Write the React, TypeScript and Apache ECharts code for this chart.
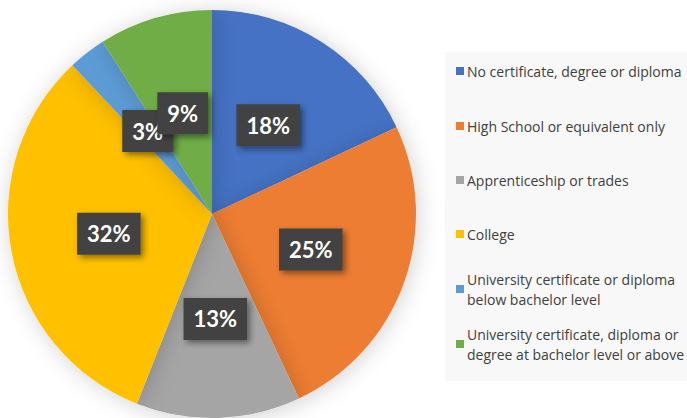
import React, { useEffect, useRef } from "react";
import * as echarts from "echarts";

const categories = [
  "No certificate, degree or diploma",
  "High School or equivalent only",
  "Apprenticeship or trades",
  "College",
  "University certificate or diploma below bachelor level",
  "University certificate, diploma or degree at bachelor level or above",
];
const legendLabels = [
  "No certificate, degree or diploma",
  "High School or equivalent only",
  "Apprenticeship or trades",
  "College",
  "University certificate or diploma\nbelow bachelor level",
  "University certificate, diploma or\ndegree at bachelor level or above",
];
const values = [18, 25, 13, 32, 3, 9];
const colors = ["#4472C4", "#ED7D31", "#A5A5A5", "#FFC000", "#5B9BD5", "#70AD47"];
const legendIconCenters = [71, 126, 180, 234, 289, 344];

export default function App() {
  const ref = useRef<HTMLDivElement>(null);
  useEffect(() => {
    document.body.style.margin = "0";
    const chart = echarts.init(ref.current!, null, { renderer: "svg" });
    const legends = categories.map((name, i) => {
      const multi = legendLabels[i].includes("\n");
      return {
        orient: "vertical",
        left: 456,
        top: legendIconCenters[i] - (multi ? 30 : 10),
        padding: 0,
        itemWidth: 8,
        itemHeight: 8,
        itemGap: 0,
        icon: "rect",
        data: [name],
        selectedMode: false,
        formatter: () => legendLabels[i],
        textStyle: {
          fontFamily: "Open Sans",
          fontSize: 14,
          color: "#404040",
          lineHeight: 20,
          padding: multi ? [20, 0, 0, -2] : [0, 0, 0, -2],
        },
      };
    });
    chart.setOption({
      animation: false,
      color: colors,
      graphic: [
        {
          type: "rect",
          left: 445,
          top: 52,
          shape: { width: 242, height: 329 },
          style: { fill: "#f8f8f8" },
          z: -1,
        },
      ],
      legend: legends,
      series: [
        {
          type: "pie",
          center: [212, 214],
          radius: 204,
          startAngle: 90,
          clockwise: true,
          data: categories.map((name, i) => ({ name, value: values[i] })),
          itemStyle: {
            shadowBlur: 22,
            shadowColor: "rgba(0,0,0,0.18)",
            shadowOffsetX: 2,
            shadowOffsetY: 2,
          },
          labelLayout: { hideOverlap: false },
          label: {
            show: true,
            position: "inside",
            formatter: "{c}%",
            fontFamily: "Lato",
            fontSize: 22,
            fontWeight: "bold",
            color: "#ffffff",
            backgroundColor: "#434343",
            padding: [8, 10, 8, 10],
            lineHeight: 26,
            shadowBlur: 6,
            shadowColor: "rgba(0,0,0,0.45)",
            shadowOffsetX: 3,
            shadowOffsetY: 3,
          },
          labelLine: { show: false },
          emphasis: { disabled: true },
        },
      ],
    });
    return () => chart.dispose();
  }, []);
  return <div ref={ref} style={{ width: 687, height: 418 }} />;
}
